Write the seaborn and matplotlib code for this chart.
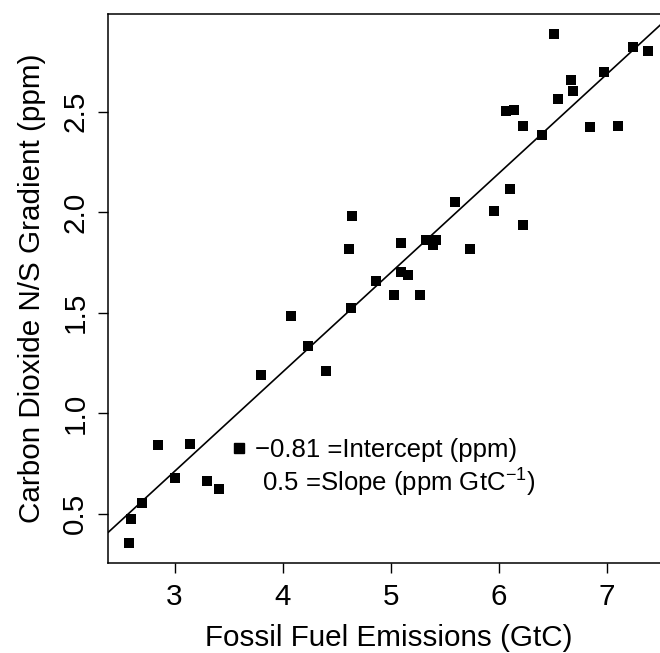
import numpy as np
import pandas as pd
import matplotlib
matplotlib.use("Agg")
import matplotlib.pyplot as plt
from matplotlib.lines import Line2D
import seaborn as sns

# Data
emissions = [2.577, 2.593, 2.697, 2.846, 3.003, 3.145, 3.299, 3.410, 3.798,
             4.073, 4.233, 4.397, 4.635, 4.616, 4.640, 4.866, 5.029, 5.269,
             5.097, 5.158, 5.093, 5.328, 5.421, 5.389, 5.732, 5.593, 5.954,
             6.099, 6.228, 6.062, 6.139, 6.228, 6.398, 6.546, 6.670, 6.685,
             6.839, 7.107, 6.971, 6.509, 7.240, 7.382]
gradient = [0.356, 0.475, 0.555, 0.840, 0.676, 0.848, 0.661, 0.621, 1.192,
            1.482, 1.332, 1.208, 1.525, 1.815, 1.981, 1.656, 1.588, 1.588,
            1.702, 1.686, 1.848, 1.863, 1.863, 1.835, 1.815, 2.052, 2.007,
            2.117, 1.938, 2.502, 2.507, 2.427, 2.382, 2.565, 2.656, 2.602,
            2.422, 2.427, 2.696, 2.885, 2.820, 2.800]
x_ticks = [3, 4, 5, 6, 7]
y_ticks = [0.5, 1.0, 1.5, 2.0, 2.5]
legend_labels = ["\u22120.81 =Intercept (ppm)", " 0.5 =Slope (ppm GtC$^{\\mathregular{-1}}$)"]

df = pd.DataFrame({"emissions": emissions, "gradient": gradient})

sns.set_theme(style="ticks")
plt.rcParams["font.family"] = ["Liberation Sans", "DejaVu Sans"]
plt.rcParams["mathtext.fontset"] = "custom"
plt.rcParams["mathtext.rm"] = "Liberation Sans"
plt.rcParams["text.color"] = "black"

W, H = 660, 653
fig = plt.figure(figsize=(W / 100, H / 100), dpi=100)
left, right, top, bottom = 108, 669, 14, 563
ax = fig.add_axes([left / W, 1 - bottom / H, (right - left) / W, (bottom - top) / H])

xmin, xmax = min(emissions), max(emissions)
ymin, ymax = min(gradient), max(gradient)
dx, dy = 0.04 * (xmax - xmin), 0.04 * (ymax - ymin)
ax.set_xlim(xmin - dx, xmax + dx)
ax.set_ylim(ymin - dy, ymax + dy)

sns.scatterplot(data=df, x="emissions", y="gradient", marker="s", s=62,
                color="black", linewidth=0, ax=ax, zorder=3)
sns.regplot(data=df, x="emissions", y="gradient", scatter=False, ci=None,
            truncate=False, color="black", line_kws={"lw": 1.2}, ax=ax)

ax.set_xticks(x_ticks)
ax.set_yticks(y_ticks)
ax.set_xticklabels([str(t) for t in x_ticks])
ax.set_yticklabels([f"{t:.1f}" for t in y_ticks], rotation=90, va="center")
ax.tick_params(direction="out", length=7.5, width=1.0, color="black",
               labelsize=21.3, labelcolor="black")
ax.tick_params(axis="x", pad=7)
ax.tick_params(axis="y", pad=6)
for sp in ax.spines.values():
    sp.set_visible(True)
    sp.set_color("black")
    sp.set_linewidth(1.1)

ax.set_xlabel("Fossil Fuel Emissions (GtC)", fontsize=21.3, labelpad=9, color="black")
ax.set_ylabel("Carbon Dioxide N/S Gradient (ppm)", fontsize=21.3, labelpad=11, color="black")

handles = [Line2D([], [], marker="s", ls="", color="black", markersize=7.9),
           Line2D([], [], ls="", marker=None)]
leg = ax.legend(handles, legend_labels, loc="upper left",
                bbox_to_anchor=(231 / W, 1 - 438 / H), bbox_transform=fig.transFigure,
                frameon=False, fontsize=18.5, handlelength=0.6, handletextpad=0.35,
                borderpad=0, borderaxespad=0, labelspacing=0.12, labelcolor="black")

fig.savefig("out.png", dpi=100)
